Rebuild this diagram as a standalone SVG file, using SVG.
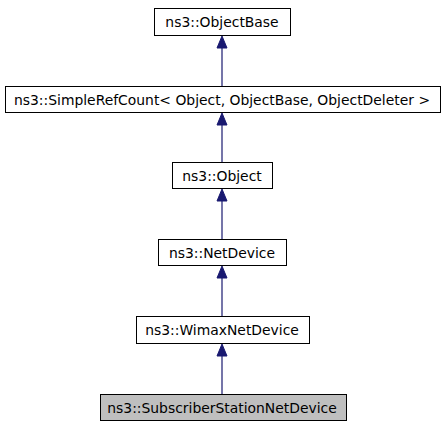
<svg xmlns="http://www.w3.org/2000/svg" width="445" height="427" viewBox="0 0 445 427">
<defs>
<style>
.box{fill:#ffffff;stroke:#000000;stroke-width:1}
.cur{fill:#bfbfbf;stroke:#000000;stroke-width:1}
.lbl{font-family:"DejaVu Sans",sans-serif;font-size:13.9px;fill:#000000;text-anchor:middle}
.edge{stroke:#191970;stroke-width:1.2;fill:none}
.head{fill:#191970;stroke:#191970;stroke-width:1}
</style>
</defs>
<rect width="445" height="427" fill="#ffffff"/>
<g id="connectors">
<line class="edge" x1="222" y1="48" x2="222" y2="86"/>
<polygon class="head" points="222,36 227,48 217,48"/>
<line class="edge" x1="222" y1="125" x2="222" y2="162"/>
<polygon class="head" points="222,113 227,125 217,125"/>
<line class="edge" x1="222" y1="201" x2="222" y2="239"/>
<polygon class="head" points="222,189 227,201 217,201"/>
<line class="edge" x1="222" y1="278" x2="222" y2="316"/>
<polygon class="head" points="222,266 227,278 217,278"/>
<line class="edge" x1="222" y1="356" x2="222" y2="394"/>
<polygon class="head" points="222,344 227,356 217,356"/>
</g>
<g id="node-objectbase">
<rect class="box" x="154.5" y="8.5" width="136" height="27"/>
<text class="lbl" x="222" y="27">ns3::ObjectBase</text>
</g>
<g id="node-simplerefcount">
<rect class="box" x="5.5" y="86.5" width="435" height="26"/>
<text class="lbl" x="222" y="104.5">ns3::SimpleRefCount&lt; Object, ObjectBase, ObjectDeleter &gt;</text>
</g>
<g id="node-object">
<rect class="box" x="172.5" y="162.5" width="100" height="26"/>
<text class="lbl" x="222" y="180.5">ns3::Object</text>
</g>
<g id="node-netdevice">
<rect class="box" x="158.5" y="239.5" width="128" height="26"/>
<text class="lbl" x="222" y="257.5">ns3::NetDevice</text>
</g>
<g id="node-wimaxnetdevice">
<rect class="box" x="136.5" y="316.5" width="173" height="27"/>
<text class="lbl" x="222" y="335">ns3::WimaxNetDevice</text>
</g>
<g id="node-subscriberstationnetdevice">
<rect class="cur" x="100.5" y="394.5" width="246" height="26"/>
<text class="lbl" x="222" y="412.5">ns3::SubscriberStationNetDevice</text>
</g>
</svg>
